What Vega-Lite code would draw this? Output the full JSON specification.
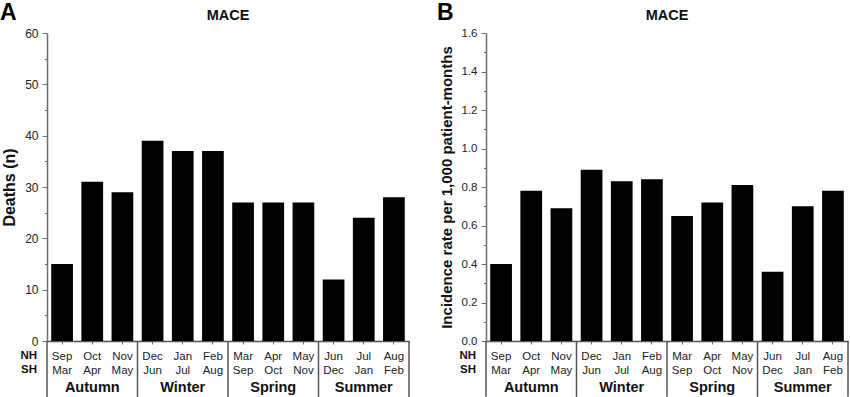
{
  "$schema": "https://vega.github.io/schema/vega-lite/v6.json",
  "padding": {"left": 0, "top": 2, "right": 0, "bottom": 0},
  "spacing": 27,
  "config": {
    "font": "Liberation Sans",
    "view": {"stroke": null},
    "axis": {"grid": false, "labelOverlap": false, "domainColor": "#6e6e6e", "domainWidth": 1.5, "tickColor": "#6e6e6e", "labelColor": "#222", "labelFont": "Liberation Sans", "titleFont": "Liberation Sans", "titleFontWeight": "bold", "titleColor": "#111"}
  },
  "datasets": {
    "deaths": [
      {"months": "Sep Mar", "value": 15}, {"months": "Oct Apr", "value": 31}, {"months": "Nov May", "value": 29},
      {"months": "Dec Jun", "value": 39}, {"months": "Jan Jul", "value": 37}, {"months": "Feb Aug", "value": 37},
      {"months": "Mar Sep", "value": 27}, {"months": "Apr Oct", "value": 27}, {"months": "May Nov", "value": 27},
      {"months": "Jun Dec", "value": 12}, {"months": "Jul Jan", "value": 24}, {"months": "Aug Feb", "value": 28}
    ],
    "incidence": [
      {"months": "Sep Mar", "value": 0.40}, {"months": "Oct Apr", "value": 0.78}, {"months": "Nov May", "value": 0.69},
      {"months": "Dec Jun", "value": 0.89}, {"months": "Jan Jul", "value": 0.83}, {"months": "Feb Aug", "value": 0.84},
      {"months": "Mar Sep", "value": 0.65}, {"months": "Apr Oct", "value": 0.72}, {"months": "May Nov", "value": 0.81},
      {"months": "Jun Dec", "value": 0.36}, {"months": "Jul Jan", "value": 0.70}, {"months": "Aug Feb", "value": 0.78}
    ],
    "seasons": [
      {"season": "Autumn", "first": "Sep Mar", "mid": "Oct Apr", "last": "Nov May"},
      {"season": "Winter", "first": "Dec Jun", "mid": "Jan Jul", "last": "Feb Aug"},
      {"season": "Spring", "first": "Mar Sep", "mid": "Apr Oct", "last": "May Nov"},
      {"season": "Summer", "first": "Jun Dec", "mid": "Jul Jan", "last": "Aug Feb"}
    ],
    "hemis": [{"label": ["NH", "SH"]}],
    "headA": [{"letter": "A", "title": "MACE"}],
    "headB": [{"letter": "B", "title": "MACE"}]
  },
  "hconcat": [
    {
      "width": 362,
      "height": 308,
      "encoding": {
        "x": {"field": "months", "type": "nominal", "scale": {"domain": ["Sep Mar","Oct Apr","Nov May","Dec Jun","Jan Jul","Feb Aug","Mar Sep","Apr Oct","May Nov","Jun Dec","Jul Jan","Aug Feb"], "paddingInner": 0, "paddingOuter": 0}}
      },
      "layer": [
        {
          "data": {"name": "deaths"},
          "mark": {"type": "bar", "color": "#000", "width": {"band": 0.72}},
          "encoding": {
            "x": {"field": "months", "type": "nominal", "axis": {"title": null, "labelAngle": 0, "labelExpr": "split(datum.value, ' ')", "labelLineHeight": 14, "labelFontSize": 11.5, "labelBaseline": "top", "tickSize": 3, "labelPadding": 6, "domainColor": "#555"}},
            "y": {"field": "value", "type": "quantitative", "scale": {"domain": [0, 60]}, "axis": {"title": "Deaths (n)", "titleFontSize": 16, "titlePadding": 7, "values": [0,5,10,15,20,25,30,35,40,45,50,55,60], "tickCount": 20, "labelOverlap": false, "labelExpr": "datum.value % 10 == 0 ? datum.label : ''", "tickSize": {"condition": {"test": "datum.value % 10 != 0", "value": 2.5}, "value": 5}, "labelFontSize": 12, "labelPadding": 4}}
          }
        },
        {
          "data": {"name": "seasons"},
          "mark": {"type": "rule", "color": "#555", "strokeWidth": 1.5},
          "encoding": {"x": {"field": "first", "type": "nominal", "bandPosition": 0}, "y": {"datum": 0}, "y2": {"datum": -11}}
        },
        {
          "data": {"name": "seasons"},
          "transform": [{"filter": "datum.season == 'Summer'"}],
          "mark": {"type": "rule", "color": "#555", "strokeWidth": 1.5},
          "encoding": {"x": {"field": "last", "type": "nominal", "bandPosition": 1}, "y": {"datum": 0}, "y2": {"datum": -11}}
        },
        {
          "data": {"name": "seasons"},
          "mark": {"type": "text", "fontSize": 14.5, "fontWeight": "bold", "color": "#111", "baseline": "alphabetic", "dy": 51},
          "encoding": {"x": {"field": "mid", "type": "nominal"}, "y": {"datum": 0}, "text": {"field": "season"}}
        },
        {
          "data": {"name": "hemis"},
          "mark": {"type": "text", "fontSize": 11.5, "fontWeight": "bold", "color": "#111", "align": "right", "baseline": "top", "dx": -10, "dy": 9, "lineHeight": 14},
          "encoding": {"x": {"datum": "Sep Mar", "bandPosition": 0}, "y": {"datum": 0}, "text": {"field": "label"}}
        },
        {
          "data": {"name": "headA"},
          "mark": {"type": "text", "fontSize": 23, "fontWeight": "bold", "color": "#000", "align": "left", "baseline": "alphabetic", "dx": -47, "dy": -13},
          "encoding": {"x": {"datum": "Sep Mar", "bandPosition": 0}, "y": {"datum": 60}, "text": {"field": "letter"}}
        },
        {
          "data": {"name": "headA"},
          "mark": {"type": "text", "fontSize": 14.5, "fontWeight": "bold", "color": "#111", "align": "center", "baseline": "alphabetic", "dy": -13.5},
          "encoding": {"x": {"datum": "Mar Sep", "bandPosition": 0}, "y": {"datum": 60}, "text": {"field": "title"}}
        }
      ]
    },
    {
      "width": 362,
      "height": 308,
      "encoding": {
        "x": {"field": "months", "type": "nominal", "scale": {"domain": ["Sep Mar","Oct Apr","Nov May","Dec Jun","Jan Jul","Feb Aug","Mar Sep","Apr Oct","May Nov","Jun Dec","Jul Jan","Aug Feb"], "paddingInner": 0, "paddingOuter": 0}}
      },
      "layer": [
        {
          "data": {"name": "incidence"},
          "mark": {"type": "bar", "color": "#000", "width": {"band": 0.72}},
          "encoding": {
            "x": {"field": "months", "type": "nominal", "axis": {"title": null, "labelAngle": 0, "labelExpr": "split(datum.value, ' ')", "labelLineHeight": 14, "labelFontSize": 11.5, "labelBaseline": "top", "tickSize": 3, "labelPadding": 6, "domainColor": "#555"}},
            "y": {"field": "value", "type": "quantitative", "scale": {"domain": [0, 1.6]}, "axis": {"title": "Incidence rate per 1,000 patient-months", "titleFontSize": 15, "titlePadding": 7, "values": [0,0.1,0.2,0.3,0.4,0.5,0.6,0.7,0.8,0.9,1.0,1.1,1.2,1.3,1.4,1.5,1.6], "tickCount": 20, "labelOverlap": false, "labelExpr": "round(datum.value*10) % 2 == 0 ? format(datum.value, '.1f') : ''", "tickSize": {"condition": {"test": "round(datum.value*10) % 2 != 0", "value": 2.5}, "value": 5}, "labelFontSize": 11.5, "labelPadding": 4}}
          }
        },
        {
          "data": {"name": "seasons"},
          "mark": {"type": "rule", "color": "#555", "strokeWidth": 1.5},
          "encoding": {"x": {"field": "first", "type": "nominal", "bandPosition": 0}, "y": {"datum": 0}, "y2": {"datum": -0.29}}
        },
        {
          "data": {"name": "seasons"},
          "transform": [{"filter": "datum.season == 'Summer'"}],
          "mark": {"type": "rule", "color": "#555", "strokeWidth": 1.5},
          "encoding": {"x": {"field": "last", "type": "nominal", "bandPosition": 1}, "y": {"datum": 0}, "y2": {"datum": -0.29}}
        },
        {
          "data": {"name": "seasons"},
          "mark": {"type": "text", "fontSize": 14.5, "fontWeight": "bold", "color": "#111", "baseline": "alphabetic", "dy": 51},
          "encoding": {"x": {"field": "mid", "type": "nominal"}, "y": {"datum": 0}, "text": {"field": "season"}}
        },
        {
          "data": {"name": "hemis"},
          "mark": {"type": "text", "fontSize": 11.5, "fontWeight": "bold", "color": "#111", "align": "right", "baseline": "top", "dx": -10, "dy": 9, "lineHeight": 14},
          "encoding": {"x": {"datum": "Sep Mar", "bandPosition": 0}, "y": {"datum": 0}, "text": {"field": "label"}}
        },
        {
          "data": {"name": "headB"},
          "mark": {"type": "text", "fontSize": 23, "fontWeight": "bold", "color": "#000", "align": "left", "baseline": "alphabetic", "dx": -49, "dy": -13},
          "encoding": {"x": {"datum": "Sep Mar", "bandPosition": 0}, "y": {"datum": 1.6}, "text": {"field": "letter"}}
        },
        {
          "data": {"name": "headB"},
          "mark": {"type": "text", "fontSize": 14.5, "fontWeight": "bold", "color": "#111", "align": "center", "baseline": "alphabetic", "dy": -13.5},
          "encoding": {"x": {"datum": "Mar Sep", "bandPosition": 0}, "y": {"datum": 1.6}, "text": {"field": "title"}}
        }
      ]
    }
  ]
}
